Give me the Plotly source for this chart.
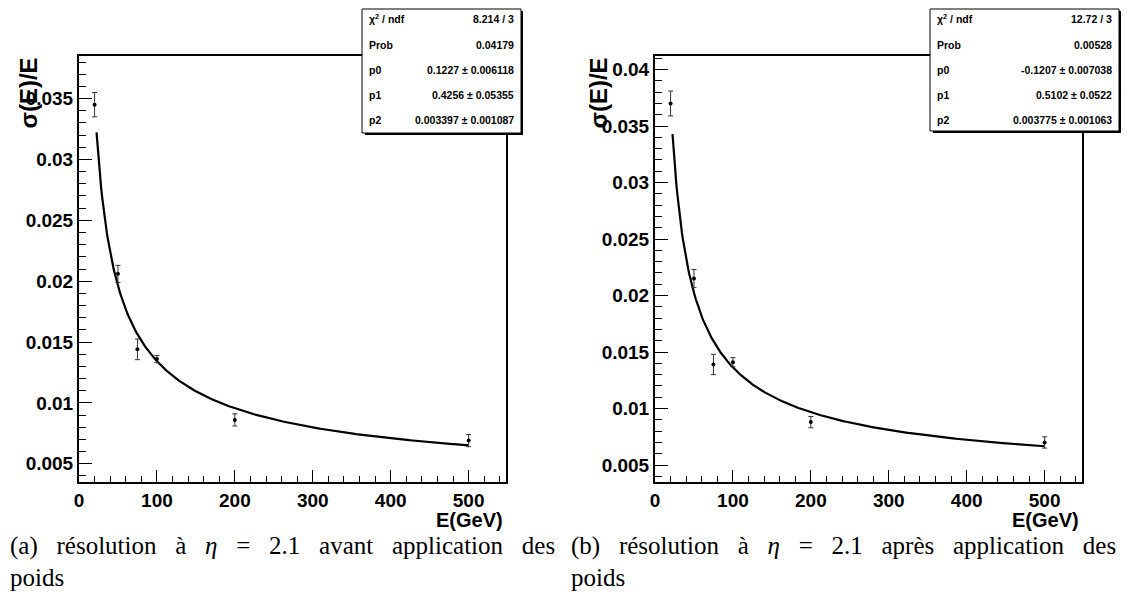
import numpy as np
import plotly.graph_objects as go

# the page body has an 8px margin, so the figure is laid out in reference
# pixel coordinates shifted by OFF
OFF = 8
W, H = 1131 - OFF, 616 - OFF

# ---------------- data ----------------
energies = [20, 50, 75, 100, 200, 500]
res_before = [0.0345, 0.0206, 0.0144, 0.0136, 0.0086, 0.0069]
err_before = [0.0010, 0.0007, 0.00085, 0.0003, 0.0005, 0.0005]
res_after = [0.0370, 0.0215, 0.0139, 0.0141, 0.0088, 0.0070]
err_after = [0.0011, 0.0008, 0.0009, 0.0004, 0.0005, 0.0005]

# fit parameters shown in the stat boxes: sigma/E = sqrt(p0^2/E + p1^2/E^2 + p2^2)
fit_before = [0.1227, 0.4256, 0.003397]
fit_after = [-0.1207, 0.5102, 0.003775]
fit_range = [22.5, 500]

stats_labels = ["χ<sup>2</sup> / ndf", "Prob", "p0", "p1", "p2"]
stats_before = ["8.214 / 3", "0.04179", "0.1227 ± 0.006118", "0.4256 ± 0.05355", "0.003397 ± 0.001087"]
stats_after = ["12.72 / 3", "0.00528", "-0.1207 ± 0.007038", "0.5102 ± 0.0522", "0.003775 ± 0.001063"]

caption_words = [
    ["(a)", "résolution", "à", "<i>η</i>", "=", "2.1", "avant", "application", "des"],
    ["(b)", "résolution", "à", "<i>η</i>", "=", "2.1", "après", "application", "des"],
]
caption_line2 = "poids"

x_title = "E(GeV)"
y_title = "σ(E)/E"

GAP = " \u00a0\u00a0"  # widened inter-word gap, mimicking the justified LaTeX caption


def fit_curve(p):
    e = np.linspace(fit_range[0], fit_range[1], 400)
    return e, np.sqrt(p[0] ** 2 / e + p[1] ** 2 / e ** 2 + p[2] ** 2)


def px(x):
    return (x - OFF) / W


def py(y):
    return 1 - (y - OFF) / H


fig = go.Figure()

panels = [
    dict(xa="x", ya="y", data=res_before, err=err_before, fit=fit_before,
         xdom=[px(79), px(506)], yrange=[0.0035, 0.0385], stats=stats_before,
         box=[362, 2, 521, 133], cap=GAP.join(caption_words[0]), capx=8, ytx=28, xtx=505),
    dict(xa="x2", ya="y2", data=res_after, err=err_after, fit=fit_after,
         xdom=[px(655), px(1082)], yrange=[0.0035, 0.0412], stats=stats_after,
         box=[930, 4, 1119, 131], cap=GAP.join(caption_words[1]), capx=569, ytx=598, xtx=1081),
]

ydom = [py(482), py(56)]
tickfont = dict(family="Liberation Sans", size=19, color="black", weight="bold")
annotations = []
shapes = []

for i, p in enumerate(panels):
    e, f = fit_curve(p["fit"])
    fig.add_trace(go.Scatter(x=e, y=f, mode="lines", line=dict(color="black", width=2.2),
                             xaxis=p["xa"], yaxis=p["ya"], showlegend=False, hoverinfo="skip"))
    fig.add_trace(go.Scatter(x=energies, y=p["data"], mode="markers",
                             marker=dict(color="black", size=4),
                             error_y=dict(type="data", array=p["err"], color="#333333",
                                          thickness=1, width=2.5),
                             xaxis=p["xa"], yaxis=p["ya"], showlegend=False))
    sfx = "" if i == 0 else "2"
    fig.layout["xaxis" + sfx] = dict(
        domain=p["xdom"], range=[0, 548], anchor="y" + sfx,
        tickmode="linear", tick0=0, dtick=100, ticks="inside", ticklen=12, tickwidth=1,
        tickcolor="black", showline=True, linecolor="black", linewidth=2, mirror=True,
        showgrid=False, zeroline=False, tickfont=tickfont,
        minor=dict(ticks="inside", ticklen=6, dtick=20, tickcolor="black", tickwidth=1, showgrid=False),
    )
    fig.layout["yaxis" + sfx] = dict(
        domain=ydom, range=p["yrange"], anchor="x" + sfx,
        tickmode="linear", tick0=0, dtick=0.005, ticks="inside", ticklen=13, tickwidth=1,
        tickcolor="black", showline=True, linecolor="black", linewidth=2, mirror=True,
        showgrid=False, zeroline=False, tickfont=tickfont,
        minor=dict(ticks="inside", ticklen=7, dtick=0.001, tickcolor="black", tickwidth=1, showgrid=False),
    )

    # axis titles
    annotations.append(dict(text=y_title, xref="paper", yref="paper", x=px(p["ytx"]), y=py(56),
                            xanchor="center", yanchor="top", textangle=-90, showarrow=False,
                            font=dict(family="Liberation Sans", size=24, color="black", weight="bold")))
    annotations.append(dict(text=x_title, xref="paper", yref="paper", x=px(p["xtx"]), y=py(520),
                            xanchor="right", yanchor="middle", showarrow=False,
                            font=dict(family="Liberation Sans", size=20, color="black", weight="bold")))

    # stat box with shadow
    x0, y0, x1, y1 = p["box"]
    shapes.append(dict(type="rect", xref="paper", yref="paper", x0=px(x0 + 3), x1=px(x1 + 2),
                       y0=py(y1 + 2), y1=py(max(y0, OFF) + 3), fillcolor="black", line=dict(width=0),
                       layer="above"))
    shapes.append(dict(type="rect", xref="paper", yref="paper", x0=px(x0), x1=px(x1),
                       y0=py(y1), y1=py(max(y0, OFF) + 1), fillcolor="white",
                       line=dict(color="black", width=1), layer="above"))
    rows = [19, 45, 70, 95, 120]
    for lab, val, ry in zip(stats_labels, p["stats"], rows):
        annotations.append(dict(text=lab, xref="paper", yref="paper", x=px(x0 + 5), y=py(ry),
                                xanchor="left", yanchor="middle", showarrow=False,
                                font=dict(family="Liberation Sans", size=10.5, color="black", weight="bold")))
        annotations.append(dict(text=val, xref="paper", yref="paper", x=px(x1 - 5), y=py(ry),
                                xanchor="right", yanchor="middle", showarrow=False,
                                font=dict(family="Liberation Sans", size=10.5, color="black", weight="bold")))

    # captions
    capfont = dict(family="Liberation Serif", size=25, color="black")
    annotations.append(dict(text=p["cap"], xref="paper", yref="paper", x=px(p["capx"]), y=py(546),
                            xanchor="left", yanchor="middle", showarrow=False, font=capfont))
    annotations.append(dict(text=caption_line2, xref="paper", yref="paper", x=px(p["capx"]), y=py(577),
                            xanchor="left", yanchor="middle", showarrow=False, font=capfont))

fig.update_layout(
    width=W, height=H, margin=dict(l=0, r=0, t=0, b=0, autoexpand=False),
    paper_bgcolor="white", plot_bgcolor="white",
    annotations=annotations, shapes=shapes, showlegend=False,
)

fig.write_html("out.html")
